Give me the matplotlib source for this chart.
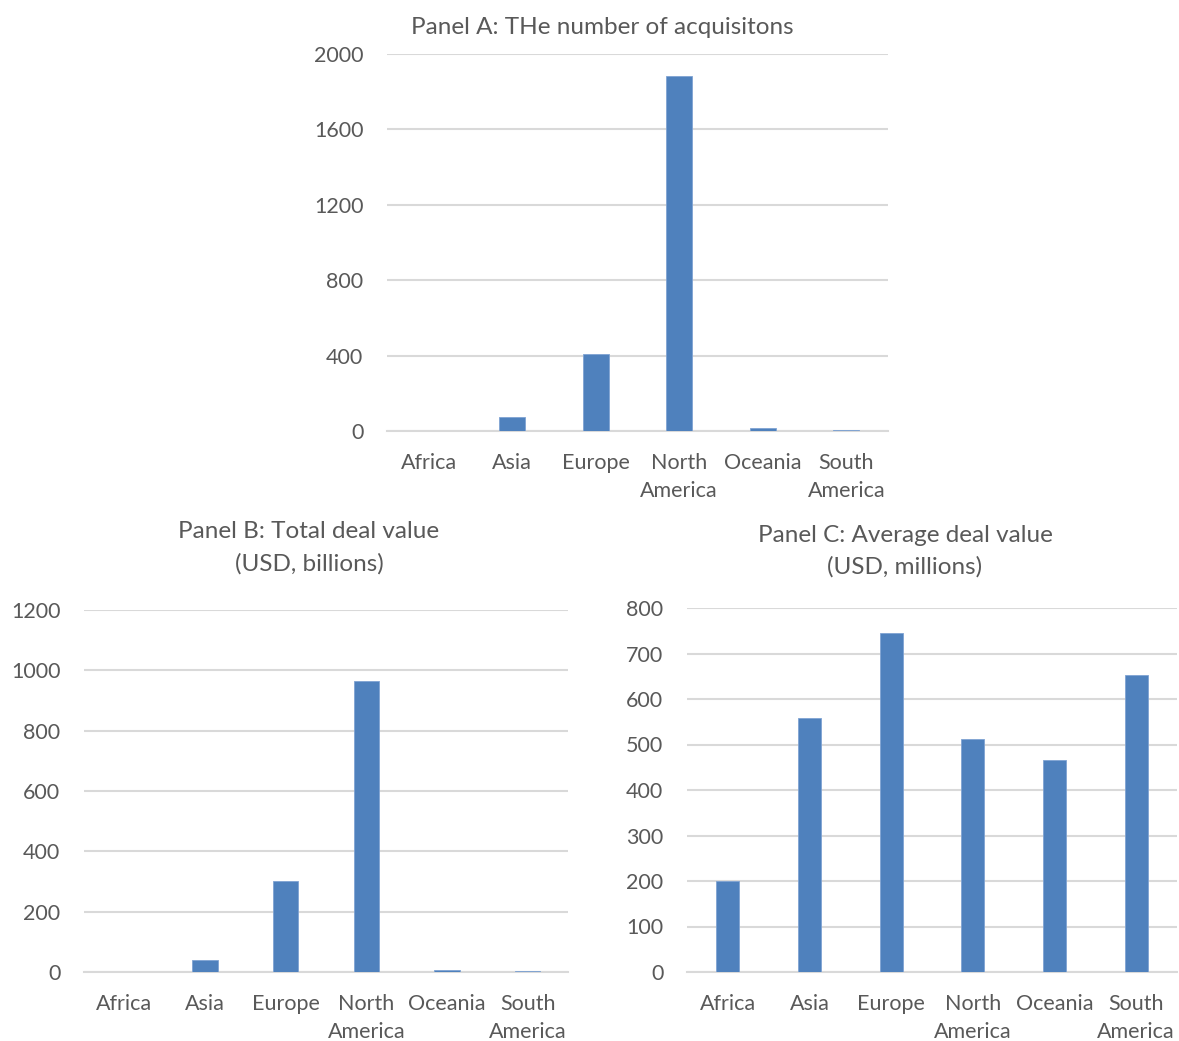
import matplotlib
matplotlib.use("Agg")
import matplotlib.pyplot as plt

plt.rcParams['font.family'] = ['Lato', 'DejaVu Sans']

regions = ["Africa", "Asia", "Europe", "North\nAmerica", "Oceania", "South\nAmerica"]

# Panel A: number of acquisitions
n_deals = [2, 73, 408, 1885, 16, 5]
# Panel B: total deal value (USD, billions)
total_value = [0.4, 40.8, 303, 966, 7.5, 3.3]
# Panel C: average deal value (USD, millions)
avg_value = [199, 559, 744, 512, 467, 652]

BAR = "#4F81BD"
GRID = "#D9D9D9"
TXT = "#595959"
W, H = 1179, 1041
FS = 15.5
TFS = 17.5

fig = plt.figure(figsize=(W / 100, H / 100), dpi=100)


def px_axes(left, right, top, bottom):
    return fig.add_axes([left / W, 1 - bottom / H, (right - left) / W, (bottom - top) / H])


def draw(ax, values, ymax, step, width):
    x = range(len(regions))
    ax.bar(x, values, width=width, color=BAR, edgecolor="#7FA3D3", linewidth=0.6, zorder=3)
    ax.set_xlim(-0.5, len(regions) - 0.5)
    ax.set_ylim(0, ymax)
    ax.set_yticks(range(0, ymax + 1, step))
    ax.set_xticks(list(x))
    ax.set_xticklabels(regions, linespacing=1.5)
    ax.grid(axis="y", color=GRID, linewidth=1.5, zorder=0)
    for s in ("top", "right", "left"):
        ax.spines[s].set_visible(False)
    ax.spines["bottom"].set_color(GRID)
    ax.spines["bottom"].set_linewidth(1.5)
    ax.tick_params(length=0, labelsize=FS, colors=TXT)
    ax.tick_params(axis="y", pad=17)
    ax.tick_params(axis="x", pad=16)


axA = px_axes(387, 888, 54, 431)
draw(axA, n_deals, 2000, 400, 0.31)
axB = px_axes(84, 568, 610, 972)
draw(axB, total_value, 1200, 200, 0.31)
axC = px_axes(687, 1177, 608, 972)
draw(axC, avg_value, 800, 100, 0.28)

fig.text(602 / W, 1 - 27 / H, "Panel A: THe number of acquisitons",
         ha="center", va="center", fontsize=TFS, color=TXT)
fig.text(309 / W, 1 - 548 / H, "Panel B: Total deal value\n(USD, billions)",
         ha="center", va="center", fontsize=TFS, color=TXT, linespacing=1.6)
fig.text(905 / W, 1 - 551.5 / H, "Panel C: Average deal value\n(USD, millions)",
         ha="center", va="center", fontsize=TFS, color=TXT, linespacing=1.55)

fig.savefig("out.png", dpi=100, facecolor="white")
